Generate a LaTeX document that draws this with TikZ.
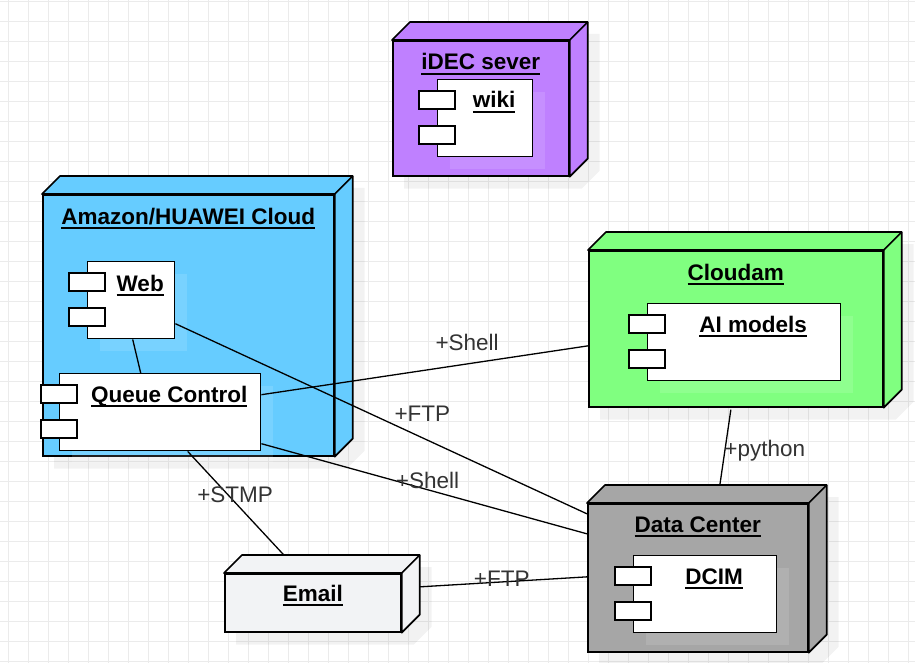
\documentclass[tikz,border=0pt]{standalone}
\usepackage{fontspec}
\setmainfont{Liberation Sans}
\usetikzlibrary{positioning,shadows,backgrounds}

\definecolor{idecfill}{HTML}{BF80FF}
\definecolor{cloudfill}{HTML}{66CCFF}
\definecolor{camfill}{HTML}{80FF80}
\definecolor{dcfill}{HTML}{A6A6A6}
\definecolor{mailfill}{HTML}{F2F3F5}
\definecolor{gridcol}{HTML}{EBEBEB}
\definecolor{lbltext}{HTML}{333333}

\newcommand{\utxt}[1]{\setbox0=\hbox{#1}\dp0=0pt\vtop{\box0\kern2.8pt\hrule height 1.8pt}}

\begin{document}
\begin{tikzpicture}[x=1pt,y=-1pt,
    cube/.style={draw, line width=1.7pt, inner sep=0pt, anchor=north west},
    face/.style={draw, line width=1.7pt, line join=round},
    comp/.style={draw, fill=white, line width=1.4pt, inner sep=0pt, anchor=north west, minimum height=77,
      drop shadow={shadow xshift=12pt, shadow yshift=-12pt, fill=white, opacity=0.12}},
    comptab/.style={draw, fill=white, line width=1.4pt},
    nodetitle/.style={font=\bfseries\fontsize{22.5pt}{27pt}\selectfont, inner sep=0pt, anchor=base},
    conn/.style={draw, line width=1.3pt},
    lbl/.style={font=\fontsize{22.5pt}{27pt}\selectfont, text=lbltext, inner sep=0pt},
    gridline/.style={draw=gridcol, line width=0.8pt},
    cubeshadow/.style={fill=black, opacity=0.05}
  ]
  \useasboundingbox (0,0) rectangle (915,663);

  % nodes
  \node[cube, fill=idecfill, minimum width=176, minimum height=135] (idec) at (392,40) {};
  \node[cube, fill=cloudfill, minimum width=291, minimum height=261] (cloud) at (42,194) {};
  \node[cube, fill=camfill, minimum width=294, minimum height=156] (cloudam) at (588,250) {};
  \node[cube, fill=dcfill, minimum width=220, minimum height=148] (dc) at (587,503) {};
  \node[cube, fill=mailfill, minimum width=176, minimum height=58] (email) at (224,573) {};

  \foreach \n/\col in {idec/idecfill, cloud/cloudfill, cloudam/camfill, dc/dcfill, email/mailfill}{
    \filldraw[face, fill=\col] (\n.north west) -- ++(18,-18) -- ([xshift=18pt,yshift=18pt]\n.north east)
      -- ([xshift=18pt,yshift=18pt]\n.south east) -- (\n.south east) -- (\n.north east) -- cycle;
    \draw[face] (\n.north east) -- ++(18,-18);
  }

  \node[nodetitle] (idecT) at ([yshift=-30pt]idec.north) {\utxt{iDEC sever}};
  \node[nodetitle] (cloudT) at ([yshift=-30pt]cloud.north) {\utxt{Amazon/HUAWEI Cloud}};
  \node[nodetitle] (cloudamT) at ([yshift=-30pt]cloudam.north) {\utxt{Cloudam}};
  \node[nodetitle] (dcT) at ([yshift=-29pt]dc.north) {\utxt{Data Center}};
  \node[nodetitle] (emailT) at ([yshift=-28pt]email.north) {\utxt{Email}};

  % components
  \node[comp, minimum width=95] (wiki) at (437,79) {};
  \node[comp, minimum width=87] (web) at (87,261) {};
  \node[comp, minimum width=201] (queue) at (59,373) {};
  \node[comp, minimum width=193] (ai) at (647,303) {};
  \node[comp, minimum width=143] (dcim) at (633,555) {};
  \foreach \c in {wiki,web,queue,ai,dcim}{
    \draw[comptab] ([xshift=-18pt,yshift=-12pt]\c.north west) rectangle ++(36,18);
    \draw[comptab] ([xshift=-18pt,yshift=-47pt]\c.north west) rectangle ++(36,18);
  }
  \node[nodetitle] (wikiT) at ([xshift=9pt,yshift=-29pt]wiki.north) {\utxt{wiki}};
  \node[nodetitle] (webT) at ([xshift=9pt,yshift=-30pt]web.north) {\utxt{Web}};
  \node[nodetitle] (queueT) at ([xshift=9pt,yshift=-29pt]queue.north) {\utxt{Queue Control}};
  \node[nodetitle] (aiT) at ([xshift=9pt,yshift=-29pt]ai.north) {\utxt{AI models}};
  \node[nodetitle] (dcimT) at ([xshift=9pt,yshift=-29pt]dcim.north) {\utxt{DCIM}};

  % connectors
  \draw[conn] ([xshift=1.5pt]web.south) -- ([xshift=-19.5pt]queue.north);
  \draw[conn] ([yshift=17.5pt]queue.east) -- node[lbl, pos=0.63, yshift=21pt] (shellA) {+Shell} ([yshift=-17pt]cloudam.west);
  \draw[conn] ([yshift=-23.5pt]web.east) -- node[lbl, pos=0.6, yshift=24.5pt] (ftpA) {+FTP} ([yshift=64pt]dc.west);
  \draw[conn] ([yshift=-31.5pt]queue.east) -- node[lbl, pos=0.51, yshift=9pt] (shellB) {+Shell} ([yshift=44pt]dc.west);
  \draw[conn] ([xshift=27.5pt]queue.south) -- node[lbl, pos=0.42, xshift=7pt] (stmp) {+STMP} ([xshift=-29pt,yshift=18pt]email.north);
  \draw[conn] ([xshift=18pt,yshift=16pt]email.east) -- node[lbl, pos=0.49, yshift=3pt] (ftpB) {+FTP} ([yshift=1pt]dc.west);
  \draw[conn] ([xshift=-5pt,yshift=-2pt]cloudam.south) -- node[lbl, pos=0.55, anchor=west, xshift=-1pt] (python) {+python} ([xshift=22pt,yshift=18pt]dc.north);

  \begin{scope}[on background layer]
    \fill[white] (0,0) rectangle (915,663);
    \foreach \gx in {8,28,...,908} \draw[gridline] (\gx,0) -- (\gx,663);
    \foreach \gy in {1,21,...,661} \draw[gridline] (0,\gy) -- (915,\gy);
    \foreach \n in {idec,cloud,cloudam,dc,email}
      \fill[cubeshadow] ([xshift=12pt,yshift=-12pt]\n.south west) -- ([xshift=12pt,yshift=-12pt]\n.north west)
        -- ([xshift=30pt,yshift=6pt]\n.north west) -- ([xshift=30pt,yshift=6pt]\n.north east)
        -- ([xshift=30pt,yshift=6pt]\n.south east) -- ([xshift=12pt,yshift=-12pt]\n.south east) -- cycle;
  \end{scope}
\end{tikzpicture}
\end{document}
